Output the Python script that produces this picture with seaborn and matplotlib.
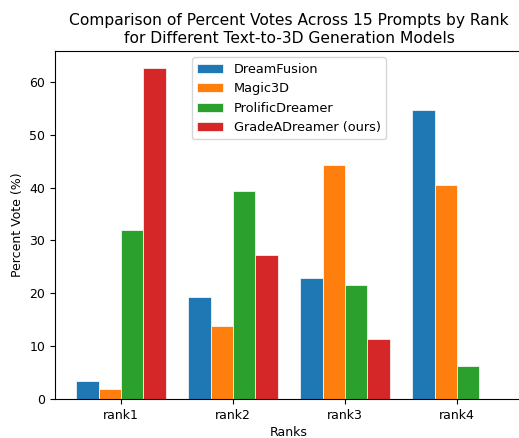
import pandas as pd
import seaborn as sns
import matplotlib.pyplot as plt

ranks = ['rank1', 'rank2', 'rank3', 'rank4']
models = ['DreamFusion', 'Magic3D', 'ProlificDreamer', 'GradeADreamer (ours)']
dreamfusion = [3.4, 19.3, 22.8, 54.7]
magic3d = [1.8, 13.9, 44.2, 40.5]
prolificdreamer = [31.9, 39.4, 21.6, 6.3]
gradeadreamer = [62.7, 27.3, 11.3, 0.0]

values = [dreamfusion, magic3d, prolificdreamer, gradeadreamer]
rows = []
for model, vals in zip(models, values):
    for rank, v in zip(ranks, vals):
        rows.append({'Ranks': rank, 'Model': model, 'Percent Vote (%)': v})
df = pd.DataFrame(rows)

fig = plt.figure(figsize=(5.19, 4.38), dpi=100)
# the reference is cropped on the right, so the axes run just past the edge
ax = fig.add_axes([55 / 519, 39 / 438, 468 / 519, 348 / 438])
sns.barplot(data=df, x='Ranks', y='Percent Vote (%)', hue='Model',
            palette=['#1f77b4', '#ff7f0e', '#2ca02c', '#d62728'],
            saturation=1, width=0.8, gap=0, edgecolor='white', linewidth=0.5, ax=ax)
ax.set_xlim(-0.59, 3.59)
ax.set_title("Comparison of Percent Votes Across 15 Prompts by Rank\nfor Different Text-to-3D Generation Models",
             fontsize=11.2)
ax.set_xlabel('Ranks', fontsize=9, labelpad=3)
ax.set_ylabel('Percent Vote (%)', fontsize=9)
ax.tick_params(labelsize=9)
ax.legend(loc='upper center', title=None, fontsize=9.3)
plt.savefig('out.png', dpi=100)
